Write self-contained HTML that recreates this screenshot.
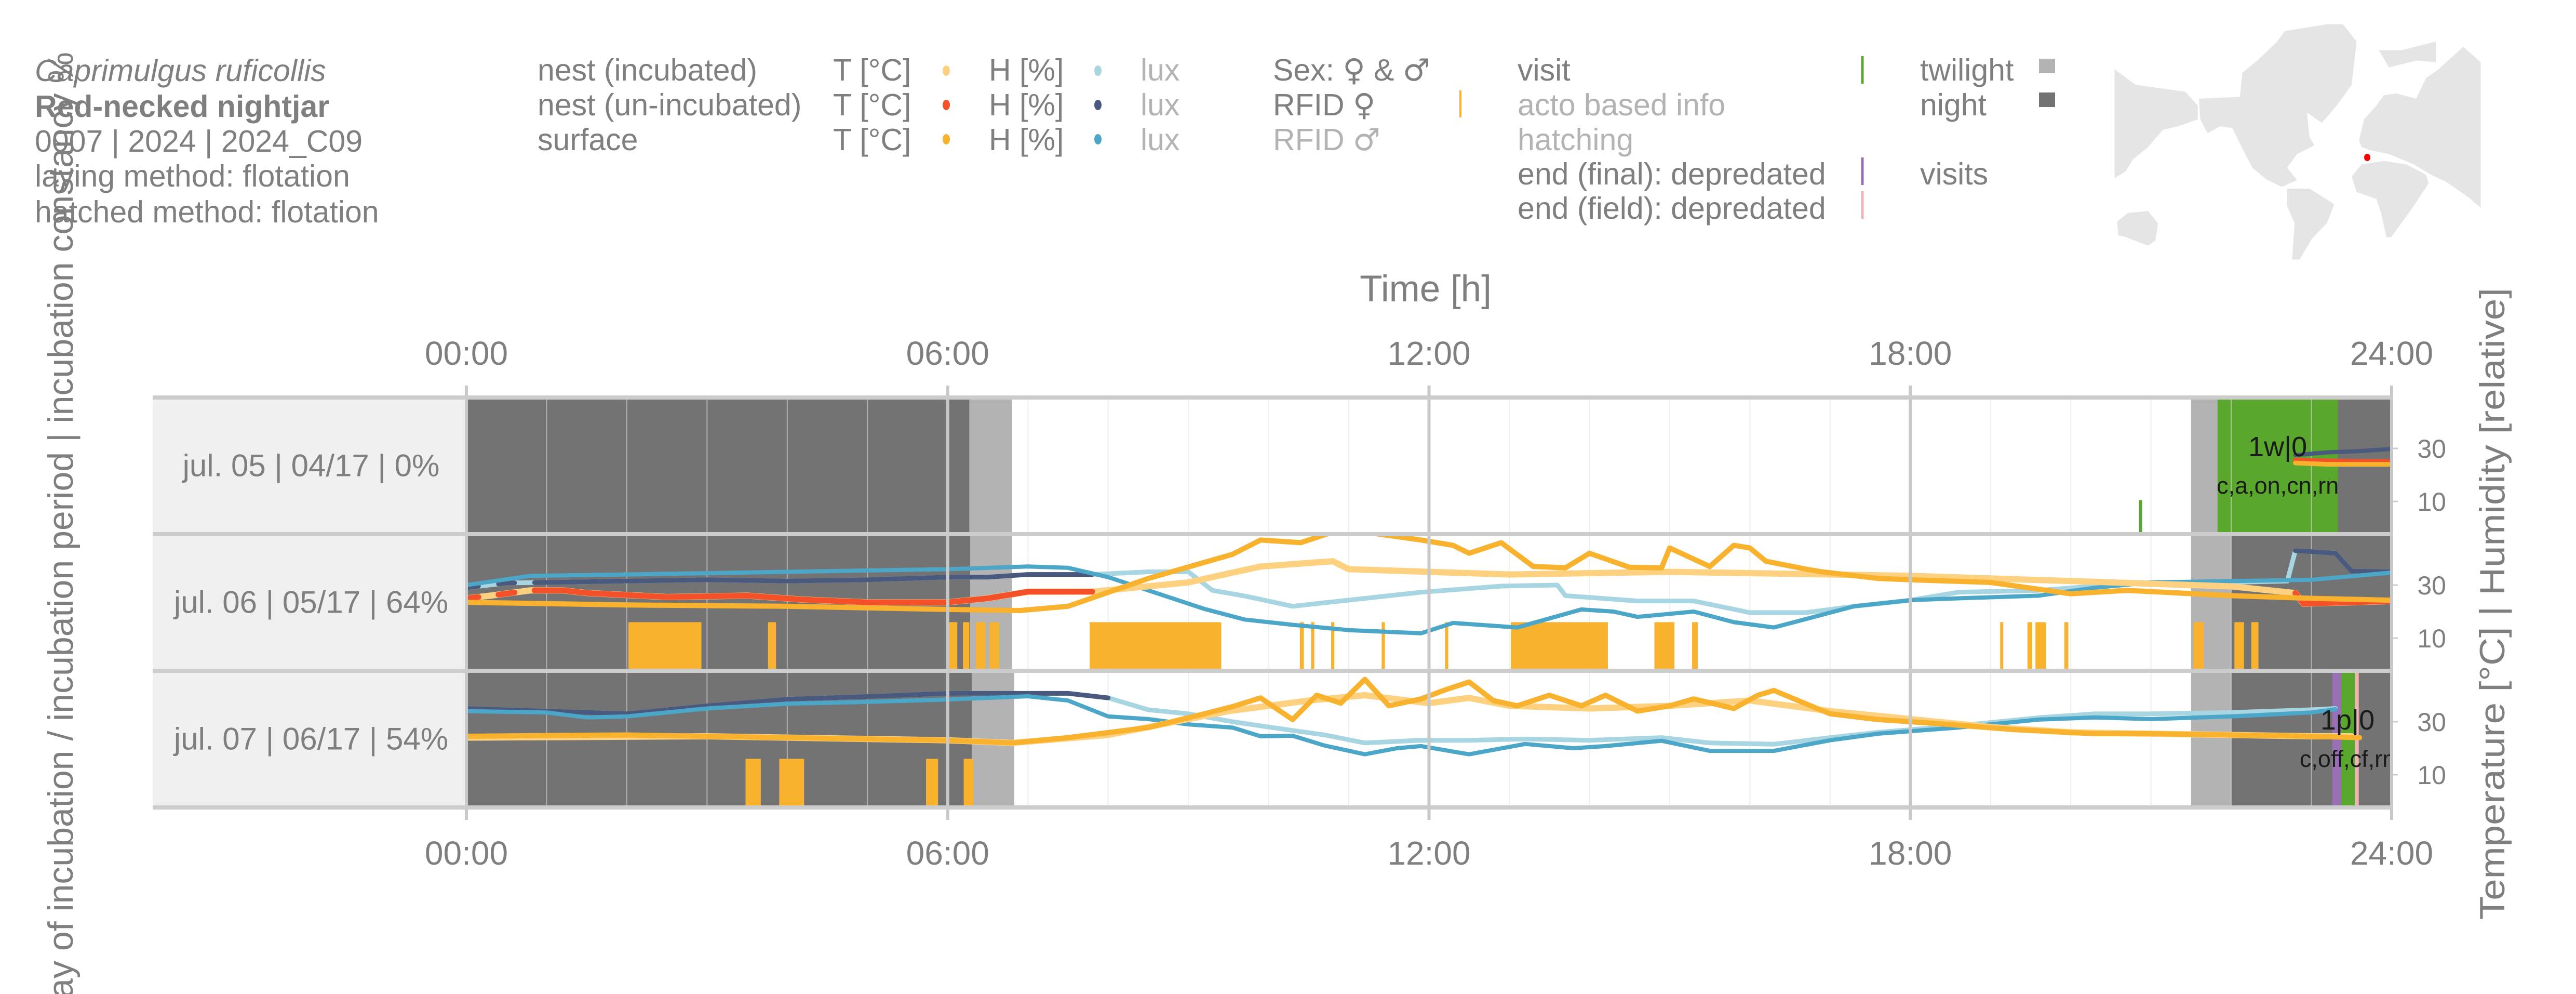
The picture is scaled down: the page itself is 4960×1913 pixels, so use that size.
<!DOCTYPE html>
<html><head><meta charset="utf-8"><style>
html,body{margin:0;padding:0;background:#fff;overflow:hidden;}
svg{display:block;}
text{font-family:"Liberation Sans",sans-serif;}
</style></head><body>
<svg id="chart" xmlns="http://www.w3.org/2000/svg" width="4960" height="1913" viewBox="0 0 4960 1913">
<g id="header" fill="#7f7f7f" font-size="59">
  <text x="67" y="156" font-style="italic">Caprimulgus ruficollis</text>
  <text x="67" y="225" font-weight="bold">Red-necked nightjar</text>
  <text x="67" y="292">0007 | 2024 | 2024_C09</text>
  <text x="67" y="359">laying method: flotation</text>
  <text x="67" y="428">hatched method: flotation</text>
</g>
<g id="legend" font-size="59" fill="#7f7f7f">
  <text x="1035" y="155">nest (incubated)</text>
  <text x="1035" y="222">nest (un-incubated)</text>
  <text x="1035" y="289">surface</text>
  <text x="1604" y="155">T [°C]</text><text x="1604" y="222">T [°C]</text><text x="1604" y="289">T [°C]</text>
  <ellipse cx="1822" cy="136" rx="7" ry="10" fill="#FDD180"/>
  <ellipse cx="1822" cy="202" rx="7" ry="10" fill="#F4502A"/>
  <ellipse cx="1822" cy="268" rx="7" ry="10" fill="#F9B22D"/>
  <text x="1904" y="155">H [%]</text><text x="1904" y="222">H [%]</text><text x="1904" y="289">H [%]</text>
  <ellipse cx="2114" cy="136" rx="7" ry="10" fill="#A8D5E2"/>
  <ellipse cx="2114" cy="202" rx="7" ry="10" fill="#4A5A7E"/>
  <ellipse cx="2114" cy="268" rx="7" ry="10" fill="#4BA6C8"/>
  <text x="2196" y="155" fill="#b3b3b3">lux</text><text x="2196" y="222" fill="#b3b3b3">lux</text><text x="2196" y="289" fill="#b3b3b3">lux</text>
  <text x="2451" y="155">Sex: <tspan font-family="DejaVu Sans">♀</tspan> &amp; <tspan font-family="DejaVu Sans">♂</tspan></text>
  <text x="2451" y="222">RFID <tspan font-family="DejaVu Sans">♀</tspan></text>
  <text x="2451" y="289" fill="#b3b3b3">RFID <tspan font-family="DejaVu Sans">♂</tspan></text>
  <line x1="2812" y1="174" x2="2812" y2="226" stroke="#F9B22D" stroke-width="4"/>
  <text x="2922" y="155">visit</text>
  <text x="2922" y="222" fill="#b3b3b3">acto based info</text>
  <text x="2922" y="289" fill="#b3b3b3">hatching</text>
  <text x="2922" y="355">end (final): depredated</text>
  <text x="2922" y="421">end (field): depredated</text>
  <line x1="3586" y1="108" x2="3586" y2="161" stroke="#5aa72e" stroke-width="5"/>
  <line x1="3586" y1="303" x2="3586" y2="356" stroke="#9b6fb5" stroke-width="5"/>
  <line x1="3586" y1="368" x2="3586" y2="421" stroke="#f0b4b4" stroke-width="5"/>
  <text x="3697" y="155">twilight</text>
  <text x="3697" y="222">night</text>
  <text x="3697" y="355">visits</text>
  <rect x="3926" y="113" width="31" height="28" fill="#b3b3b3"/>
  <rect x="3926" y="178" width="31" height="28" fill="#737373"/>
</g>
<g id="map">
  <g transform="translate(4050,30) scale(0.478,0.333)" fill="#e5e5e5">
    <polygon points="45,310 130,400 330,440 380,520 380,600 300,640 240,660 180,760 120,830 90,900 45,940"/>
    <polygon points="385,480 550,470 560,330 620,260 700,150 730,90 900,50 965,50 1020,150 1000,400 940,520 880,620 820,560 830,700 850,750 780,800 740,880 780,950 720,990 660,950 600,880 550,740 520,650 470,640 420,680 390,600"/>
    <polygon points="740,1000 830,1000 930,1090 900,1200 840,1290 790,1410 760,1410 770,1200 740,1100"/>
    <polygon points="1000,930 1040,860 1130,840 1220,860 1300,920 1310,970 1250,1100 1200,1200 1160,1280 1140,1280 1120,1150 1100,1060 1020,1020"/>
    <polygon points="1030,720 1050,600 1100,520 1130,460 1180,450 1260,480 1300,360 1350,310 1450,180 1520,270 1520,1110 1470,1050 1380,960 1320,920 1250,860 1150,800 1080,780 1040,760"/>
    <polygon points="1110,200 1200,200 1340,150 1340,270 1260,260 1150,300"/>
    <polygon points="55,1190 100,1140 180,1130 220,1200 210,1300 180,1330 90,1280 60,1270"/>
  </g>
  <ellipse cx="4558" cy="303" rx="6" ry="7" fill="#ff0000"/>
</g>
<g id="plot"></g>
</svg>
<script>
// ---------- data ----------
const days = ["jul. 05 | 04/17 | 0%", "jul. 06 | 05/17 | 64%", "jul. 07 | 06/17 | 54%"];
const xTicks = [0, 6, 12, 18, 24];
const xTickLabels = ["00:00", "06:00", "12:00", "18:00", "24:00"];
const yTicks = [30, 10];
const nightPeriods = [[[0,6.27],[22.0,24]], [[0,6.28],[22.0,24]], [[0,6.3],[22.0,24]]];
const twilightPeriods = [[[6.27,6.8],[21.5,22.0]], [[6.28,6.8],[21.5,22.0]], [[6.3,6.83],[21.5,22.0]]];
const actoBars = [
  [],
  [[2.02,2.93],[3.76,3.86],[6.01,6.12],[6.19,6.27],[6.35,6.47],[6.52,6.64],[7.77,9.41],[10.39,10.44],[10.53,10.57],[10.78,10.82],[11.41,11.45],[12.2,12.24],[13.02,14.23],[14.81,15.06],[15.28,15.35],[19.12,19.15],[19.46,19.52],[19.56,19.69],[19.92,19.97],[21.53,21.66],[22.04,22.16],[22.25,22.34]],
  [[3.48,3.67],[3.9,4.21],[5.73,5.88],[6.2,6.32]]
];
const actoTop = 16;
const visitRects = [[[21.83,23.33,"#5aa72e"]], [], [[23.26,23.37,"#9b6fb5"],[23.37,23.54,"#5aa72e"],[23.54,23.59,"#f0b4b4"]]];
const visitTicks = [[[20.87,10.5]], [], []];
const visitLabels = [["1w|0","c,a,on,cn,rn",22.58], null, ["1p|0","c,off,cf,rn",23.45]];
const d1_h = [22.8, 23.2, 23.6, 24];
const d1_nestH = [27.5, 28.5, 29, 29.8];
const d1_nestT = [25.5, 25.2, 25, 25];
const d1_surfT = [24.5, 24, 24, 24];
const d2_surfT_h = [0,2,4,6,6.9,7.5,8.5,9.55,9.9,10.4,10.8,11.2,11.9,12.3,12.5,12.9,13.3,13.7,14.0,14.5,14.9,15.0,15.5,15.8,16.0,16.2,16.7,16.9,17.6,18.0,19.0,20.0,20.7,22,23,24];
const d2_surfT = [23.5,22.5,22,20.8,20.4,22,32.5,41.6,47,46,50,50,47,45,42,46,37,36.5,42,36.7,36.5,44,37,45,44,39,36,35,32.5,32,31,26.7,28,26,25,24.3];
const d2_nestT_h = [0,0.3,0.8,1.2,1.5,2.5,3.5,4.2,5,6,6.5,7,7.8,9,9.55,9.9,10.8,11,12,13,15,17,18,20,20.7,22,22.8,22.9,23.5,24];
const d2_nestT = [25,26,28,28,27,25.5,26,24.5,23.5,23.5,25,27.5,27.5,31,34.7,37,39,36,35,34,35,34,33.5,31.5,30.8,29.5,27,23,23.5,24];
const d2_nestH_h = [0,0.5,1,2,3,4,5,6,6.5,7,7.8,8.5,9,9.3,9.7,10.3,10.9,11.9,12.9,13.6,13.7,14.6,15.3,16,16.7,17.3,18,18.6,19.6,20.3,21,22,22.7,22.8,23.3,23.5,24];
const d2_nestH = [29,30.8,31,31.5,32,31.5,32,33,33,34,34,35,35,28,25.9,22,24,27.3,29.6,30,26,24,24,19.6,19.6,22,24.3,27.3,28,29.6,31,31,31.5,43,42,35.3,35];
const d2_surfH_h = [0,0.8,2,4,6,7,7.5,8,8.5,9.2,9.7,10.3,11,11.9,12.3,13.1,13.9,14.3,14.6,15.3,15.8,16.3,16.8,17.3,18,18.6,19.6,20.3,21,22,23,24];
const d2_surfH = [30,33.5,34,35,36,37,36.5,33,28,21,17,15,13,11.8,15.7,14,20.8,20,18,20,16,14,18,22,24.3,25,26,29,31,31.5,32,34.7];
const d2_unincubated = [[0,0.15],[0.4,0.6],[0.85,7.8],[22.8,24]];
const d3_surfT_h = [0,1,2,3,4,5,6,6.8,7.5,8.5,9.2,9.55,9.9,10.3,10.6,10.9,11.2,11.5,11.9,12.2,12.5,12.8,13.1,13.5,13.9,14.2,14.6,15,15.3,15.8,16.1,16.3,16.6,17,17.6,18.3,19.3,20.3,21,22,23,23.6];
const d3_surfT = [24.5,24.8,25,24.5,24,23.5,23,22,24,27.8,33,35.7,39,30.8,40,37,46,36,38.6,42,45,38,36,40,36,40,34,36,38.6,35,40,41.8,38,33,30.8,29.4,27,25.5,25.5,25,24.5,24];
const d3_nestT_h = [0,3,6,6.8,8,9.5,10.5,11.2,12,12.5,13,14,15,16,17,18,19,20,21,22,23,23.5];
const d3_nestT = [24,24.5,23,22,25,34,38,40,37,39,36,35,36,38,34,31,28,26,25.5,25,24.5,24.5];
const d3_surfH_h = [0,1,1.5,2,3,4,5,6,6.5,7,7.5,8,8.5,9,9.55,9.9,10.3,10.7,11.2,11.6,11.9,12.5,13.2,13.8,14.2,14.9,15.5,16.3,17,17.6,18.6,19.6,20.3,21,22,23,23.3];
const d3_surfH = [34,33.5,31.6,32,35,36.8,37.5,38.4,39,39.6,38,32,31,29,27.8,24.5,24.7,21,17.7,20,20.8,17.7,21.6,20,20.8,22.8,19,19,23,25.5,27.8,30.8,31.6,31,32,33.5,34.7];
const d3_nestH_h = [0,1,2,3,4,5,6,6.8,7.5,8,8.5,9,9.55,10,10.7,11.2,11.9,12.5,13.2,14,14.9,15.5,16.3,17,17.6,18.6,19.6,20.3,21,22,23,23.3];
const d3_nestH = [35,34,33,36,38.5,39.5,40.7,40.7,40.7,39,34.5,33,30,28,25,22,23,23,23.5,23,24,22,21.5,24,26,28.5,31.5,33,33,33.5,34.5,35];
const d3_unincubated = [[0,8.0]];

// ---------- layout ----------
const NS = "http://www.w3.org/2000/svg";
const X0 = 898, X1 = 4605, STRIP0 = 294;
const rowTops = [767, 1030, 1293], rowH = 257;
const xs = h => X0 + (X1 - X0) * h / 24;
const ys = (v, r) => rowTops[r] + 96 - (v - 30) * 5.1;
const plot = document.getElementById('plot');
function mk(tag, attrs, parent) {
  const e = document.createElementNS(NS, tag);
  for (const k in attrs) e.setAttribute(k, attrs[k]);
  (parent || plot).appendChild(e);
  return e;
}
const defs = mk('defs', {});
rowTops.forEach((t, r) => {
  const cp = mk('clipPath', {id: 'clip' + r}, defs);
  mk('rect', {x: X0, y: t, width: X1 - X0, height: rowH}, cp);
});
function seg(hs, vs, a, b) {
  const pts = [];
  const interp = h => { for (let i = 0; i < hs.length - 1; i++) if (h >= hs[i] && h <= hs[i+1]) return vs[i] + (vs[i+1]-vs[i])*(h-hs[i])/(hs[i+1]-hs[i]); return null; };
  const va = interp(a); if (va !== null) pts.push([a, va]);
  for (let i = 0; i < hs.length; i++) if (hs[i] > a && hs[i] < b) pts.push([hs[i], vs[i]]);
  const vb = interp(b); if (vb !== null) pts.push([b, vb]);
  return pts;
}
function line(hs, vs, r, color, w, name, g) {
  const pts = hs.map((h, i) => xs(h).toFixed(1) + ',' + ys(vs[i], r).toFixed(1)).join(' ');
  const p = mk('polyline', {points: pts, fill: 'none', stroke: color, 'stroke-width': w, 'stroke-linejoin': 'round', 'stroke-linecap': 'round'}, g);
  
  
  return p;
}
function lineSegs(hs, vs, intervals, r, color, w, name, g) {
  intervals.forEach(iv => {
    const pts = seg(hs, vs, iv[0], iv[1]);
    if (pts.length < 2) return;
    line(pts.map(p => p[0]), pts.map(p => p[1]), r, color, w, name, g);
  });
}

rowTops.forEach((t, r) => {
  const s = mk('rect', {x: STRIP0, y: t, width: X0 - STRIP0, height: rowH, fill: '#f0f0f0'});
  
  
  const lab = mk('text', {x: (STRIP0 + X0) / 2 + 3, y: t + rowH / 2 + 21, 'text-anchor': 'middle', 'font-size': 60, fill: '#7f7f7f'});
  lab.textContent = days[r];
  
  
  const g = mk('g', {'clip-path': 'url(#clip' + r + ')'});
  
  
  mk('rect', {x: X0, y: t, width: X1 - X0, height: rowH, fill: '#fff'}, g);
  twilightPeriods[r].forEach(p => {
    const e = mk('rect', {x: xs(p[0]), y: t, width: xs(p[1]) - xs(p[0]), height: rowH, fill: '#b3b3b3'}, g);
    
    
  });
  nightPeriods[r].forEach(p => {
    const e = mk('rect', {x: xs(p[0]), y: t, width: xs(p[1]) - xs(p[0]), height: rowH, fill: '#737373'}, g);
    
    
  });
  visitRects[r].forEach(v => {
    const e = mk('rect', {x: xs(v[0]), y: t, width: xs(v[1]) - xs(v[0]), height: rowH, fill: v[2]}, g);
    
    
  });
  for (let h = 1; h < 24; h++) {
    if (h % 6 === 0) continue;
    mk('line', {x1: xs(h), x2: xs(h), y1: t, y2: t + rowH, stroke: 'rgba(225,225,225,0.55)', 'stroke-width': 2}, g);
  }
  actoBars[r].forEach(b => {
    const e = mk('rect', {x: xs(b[0]), y: ys(actoTop, r), width: Math.max(6, xs(b[1]) - xs(b[0])), height: t + rowH - ys(actoTop, r), fill: '#F9B22D'}, g);
    
    
  });
  visitTicks[r].forEach(v => {
    const e = mk('line', {x1: xs(v[0]), x2: xs(v[0]), y1: ys(v[1], r), y2: t + rowH, stroke: '#5aa72e', 'stroke-width': 6}, g);
    
    
  });
  if (r === 0) {
    line(d1_h, d1_nestH, 0, '#4A5A7E', 8, 'nest-humidity', g);
    line(d1_h, d1_nestT, 0, '#F4502A', 10, 'nest-temperature', g);
    line(d1_h, d1_surfT, 0, '#F9B22D', 9, 'surface-temperature', g);
  } else if (r === 1) {
    line(d2_nestH_h, d2_nestH, 1, '#A8D5E2', 9, 'nest-humidity', g);
    lineSegs(d2_nestH_h, d2_nestH, d2_unincubated, 1, '#4A5A7E', 9, 'nest-humidity-unincubated', g);
    line(d2_surfH_h, d2_surfH, 1, '#4BA6C8', 8, 'surface-humidity', g);
    line(d2_nestT_h, d2_nestT, 1, '#FDD180', 12, 'nest-temperature', g);
    lineSegs(d2_nestT_h, d2_nestT, d2_unincubated, 1, '#F4502A', 11, 'nest-temperature-unincubated', g);
    line(d2_surfT_h, d2_surfT, 1, '#F9B22D', 10, 'surface-temperature', g);
  } else {
    line(d3_nestH_h, d3_nestH, 2, '#A8D5E2', 9, 'nest-humidity', g);
    lineSegs(d3_nestH_h, d3_nestH, d3_unincubated, 2, '#4A5A7E', 9, 'nest-humidity-unincubated', g);
    line(d3_surfH_h, d3_surfH, 2, '#4BA6C8', 8, 'surface-humidity', g);
    line(d3_nestT_h, d3_nestT, 2, '#FDD180', 12, 'nest-temperature', g);
    line(d3_surfT_h, d3_surfT, 2, '#F9B22D', 10, 'surface-temperature', g);
  }
  const vl = visitLabels[r];
  if (vl) {
    const a = mk('text', {x: xs(vl[2]), y: t + 111, 'text-anchor': 'middle', 'font-size': 54, fill: '#1a1a1a', 'font-family': 'DejaVu Sans, sans-serif'}, g);
    a.textContent = vl[0];
    
    
    const b = mk('text', {x: xs(vl[2]), y: t + 183, 'text-anchor': 'middle', 'font-size': 45, fill: '#1a1a1a', 'font-family': 'DejaVu Sans, sans-serif'}, g);
    b.textContent = vl[1];
    
    
  }
  yTicks.forEach(v => {
    mk('line', {x1: X1, x2: X1 + 12, y1: ys(v, r), y2: ys(v, r), stroke: '#cccccc', 'stroke-width': 3});
    const tl = mk('text', {x: 4710, y: ys(v, r) + 18, 'text-anchor': 'end', 'font-size': 50, fill: '#7f7f7f'});
    tl.textContent = v;
    
    
  });
});
xTicks.forEach((h, i) => {
  const l = mk('line', {x1: xs(h), x2: xs(h), y1: 742, y2: 1578, stroke: '#c8c8c8', 'stroke-width': 6});
  
  
  const a = mk('text', {x: xs(h), y: 702, 'text-anchor': 'middle', 'font-size': 64, fill: '#7f7f7f'});
  a.textContent = xTickLabels[i];
  
  
  const b = mk('text', {x: xs(h), y: 1664, 'text-anchor': 'middle', 'font-size': 64, fill: '#7f7f7f'});
  b.textContent = xTickLabels[i];
  
  
});
[765, 1028, 1291, 1554].forEach(y => {
  mk('line', {x1: STRIP0, x2: X1 + 3, y1: y, y2: y, stroke: '#cccccc', 'stroke-width': 8});
});
const tt = mk('text', {x: 2745, y: 580, 'text-anchor': 'middle', 'font-size': 71, fill: '#7f7f7f'});
tt.textContent = 'Time [h]';


const rt = mk('text', {x: 0, y: 0, 'text-anchor': 'middle', 'font-size': 68, fill: '#7f7f7f', transform: 'translate(4822,1162) rotate(-90)', textLength: 1216, lengthAdjust: 'spacingAndGlyphs'});
rt.textContent = 'Temperature [°C]   |   Humidity [relative]';


const lt = mk('text', {x: 0, y: 0, 'text-anchor': 'end', 'font-size': 68, fill: '#7f7f7f', transform: 'translate(140,100) rotate(-90)'});
lt.textContent = 'day of incubation / incubation period | incubation constancy %';


</script>
</body></html>
